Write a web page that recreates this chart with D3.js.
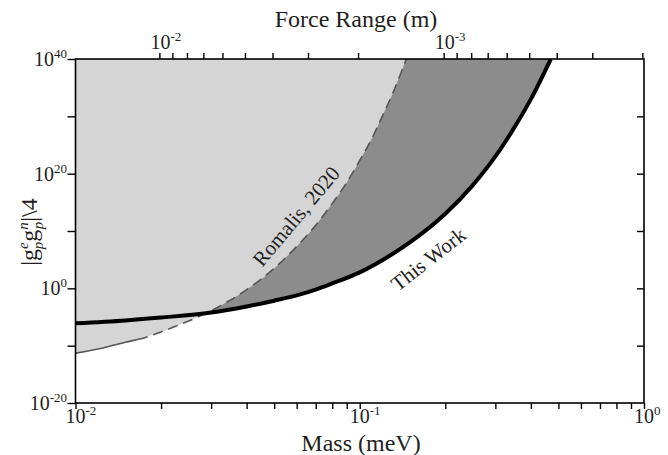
<!DOCTYPE html>
<html>
<head>
<meta charset="utf-8">
<script src="https://cdn.jsdelivr.net/npm/d3@7"></script>
<style>
body { margin: 0; background: #fff; }
text { font-family: "Liberation Serif", "Times New Roman", serif; fill: #231f20; }
</style>
</head>
<body>
<svg></svg>
<script>
// mass (meV) and coupling
var thisWorkMass = [0.01, 0.015, 0.02, 0.03, 0.04, 0.05, 0.06, 0.07, 0.08, 0.1, 0.12, 0.15, 0.2, 0.25, 0.3, 0.35, 0.4, 0.47];
var thisWorkG    = [7.9e-7, 2.5e-6, 8e-6, 6e-5, 7e-4, 7e-3, 6e-2, 6e-1, 7e0, 6e2, 8e4, 1e8, 1e13, 1e18, 1e23, 1.2e28, 1e33, 1e40];

var romalisMass = [0.01, 0.0125, 0.015, 0.0175, 0.02, 0.025, 0.03, 0.04, 0.05, 0.06, 0.07, 0.08, 0.09, 0.1, 0.11, 0.12, 0.13, 0.1458];
var romalisG    = [5e-12, 4e-11, 4e-10, 2.5e-9, 2.5e-8, 2e-6, 1.2e-4, 6e-1, 3e3, 2e7, 1e11, 6e14, 3e18, 2e22, 1e26, 1e30, 6e33, 1e40];
var romalisSolidEnd = 0.0179; // solid part of the line, dashed after

var massMajor = [0.01, 0.1, 1];
var massLabels = ['-2', '-1', '0'];
var massMinor = [0.02, 0.03, 0.04, 0.05, 0.06, 0.07, 0.08, 0.09, 0.2, 0.3, 0.4, 0.5, 0.6, 0.7, 0.8, 0.9];
var gTicks = [1e-20, 1e-10, 1e0, 1e10, 1e20, 1e30, 1e40];
var gLabels = [[1e-20, '-20'], [1e0, '0'], [1e20, '20'], [1e40, '40']];
var rangeTicks = [1e-2, 9e-3, 8e-3, 7e-3, 6e-3, 5e-3, 4e-3, 3e-3, 2e-3, 1e-3, 9e-4, 8e-4, 7e-4, 6e-4, 5e-4, 4e-4, 3e-4, 2e-4];
var rangeLabels = [[1e-2, '-2'], [1e-3, '-3']];
var HBARC = 1.973e-4; // m * meV

var W = 668, H = 455;
var L = 75.5, R = 644, T = 59, B = 403;

var svg = d3.select('svg').attr('width', W).attr('height', H);

var x = d3.scaleLog().domain([0.01, 1]).range([L, R]);
var y = d3.scaleLog().domain([1e-20, 1e40]).range([B, T]);
var xTop = d3.scaleLog().domain([HBARC / 0.01, HBARC / 1]).range([L, R]);

svg.append('clipPath').attr('id', 'plot')
	.append('rect').attr('x', L).attr('y', T).attr('width', R - L).attr('height', B - T);
svg.append('clipPath').attr('id', 'solidPart')
	.append('rect').attr('x', L).attr('y', T).attr('width', x(romalisSolidEnd) - L).attr('height', B - T);
svg.append('clipPath').attr('id', 'dashPart')
	.append('rect').attr('x', x(romalisSolidEnd)).attr('y', T).attr('width', R - x(romalisSolidEnd)).attr('height', B - T);

var tw = thisWorkMass.map(function (m, i) { return [m, thisWorkG[i]]; });
var rm = romalisMass.map(function (m, i) { return [m, romalisG[i]]; });

var area = d3.area()
	.x(function (d) { return x(d[0]); })
	.y0(T)
	.y1(function (d) { return y(d[1]); })
	.curve(d3.curveMonotoneX);
var line = d3.line()
	.x(function (d) { return x(d[0]); })
	.y(function (d) { return y(d[1]); })
	.curve(d3.curveMonotoneX);

var g = svg.append('g').attr('clip-path', 'url(#plot)');
g.append('path').attr('d', area(tw)).attr('fill', '#8c8c8c');
g.append('path').attr('d', area(rm)).attr('fill', '#d5d5d5');

g.append('path').attr('d', line(rm)).attr('clip-path', 'url(#solidPart)')
	.attr('fill', 'none').attr('stroke', '#555').attr('stroke-width', 1.6);
g.append('path').attr('d', line(rm)).attr('clip-path', 'url(#dashPart)')
	.attr('fill', 'none').attr('stroke', '#555').attr('stroke-width', 1.6)
	.attr('stroke-dasharray', '10,6');
g.append('path').attr('d', line(tw))
	.attr('fill', 'none').attr('stroke', '#000').attr('stroke-width', 4);

// axes
var axStyle = function (a) {
	a.select('.domain').remove();
	a.selectAll('line').attr('stroke', '#000').attr('stroke-width', 1.4);
};
svg.append('g').attr('transform', 'translate(0,' + B + ')')
	.call(d3.axisBottom(x).tickValues(massMajor.concat(massMinor)).tickSize(6).tickFormat(''))
	.call(axStyle);
svg.append('g').attr('transform', 'translate(0,' + T + ')')
	.call(d3.axisTop(xTop).tickValues(rangeTicks).tickSize(6).tickFormat(''))
	.call(axStyle);
svg.append('g').attr('transform', 'translate(' + L + ',0)')
	.call(d3.axisLeft(y).tickValues(gTicks).tickSize(8).tickFormat(''))
	.call(axStyle);
svg.append('g').attr('transform', 'translate(' + R + ',0)')
	.call(d3.axisLeft(y).tickValues(gTicks.slice(1, -1)).tickSize(7).tickFormat(''))
	.call(axStyle);

svg.append('rect').attr('x', L).attr('y', T).attr('width', R - L).attr('height', B - T)
	.attr('fill', 'none').attr('stroke', '#000').attr('stroke-width', 1.6);

function powLabel(px, py, exp, anchor) {
	var t = svg.append('text').attr('x', px).attr('y', py).attr('text-anchor', anchor)
		.style('font-size', '20px');
	t.append('tspan').text('10');
	t.append('tspan').attr('dy', -8).style('font-size', '13px').text(exp);
}

gLabels.forEach(function (d) { powLabel(67, y(d[0]) + 7, d[1], 'end'); });
massMajor.forEach(function (m, i) { powLabel(x(m) - 10, 423, massLabels[i], 'start'); });
rangeLabels.forEach(function (d) { powLabel(xTop(d[0]) - 9, 49, d[1], 'start'); });

svg.append('text').attr('x', 361).attr('y', 451).attr('text-anchor', 'middle')
	.style('font-size', '24px').text('Mass (meV)');
svg.append('text').attr('x', 356).attr('y', 27).attr('text-anchor', 'middle')
	.style('font-size', '24px').text('Force Range (m)');

// y title |g_p^e g_p^n|\4
var yt = svg.append('text').attr('transform', 'translate(37,232) rotate(-90)')
	.attr('text-anchor', 'middle').style('font-size', '24px');
yt.append('tspan').text('|g');
yt.append('tspan').attr('dy', -9).style('font-size', '15px').style('font-style', 'italic').text('e');
yt.append('tspan').attr('dx', -7).attr('dy', 15).style('font-size', '15px').style('font-style', 'italic').text('p');
yt.append('tspan').attr('dy', -6).text('g');
yt.append('tspan').attr('dy', -9).style('font-size', '15px').style('font-style', 'italic').text('n');
yt.append('tspan').attr('dx', -7).attr('dy', 15).style('font-size', '15px').style('font-style', 'italic').text('p');
yt.append('tspan').attr('dy', -6).text('|\\4');

svg.append('text').attr('transform', 'translate(297,217) rotate(-50)')
	.attr('text-anchor', 'middle').attr('dy', 6).style('font-size', '21px').text('Romalis, 2020');
svg.append('text').attr('transform', 'translate(429,260) rotate(-38)')
	.attr('text-anchor', 'middle').attr('dy', 6).style('font-size', '21px').text('This Work');
</script>
</body>
</html>
